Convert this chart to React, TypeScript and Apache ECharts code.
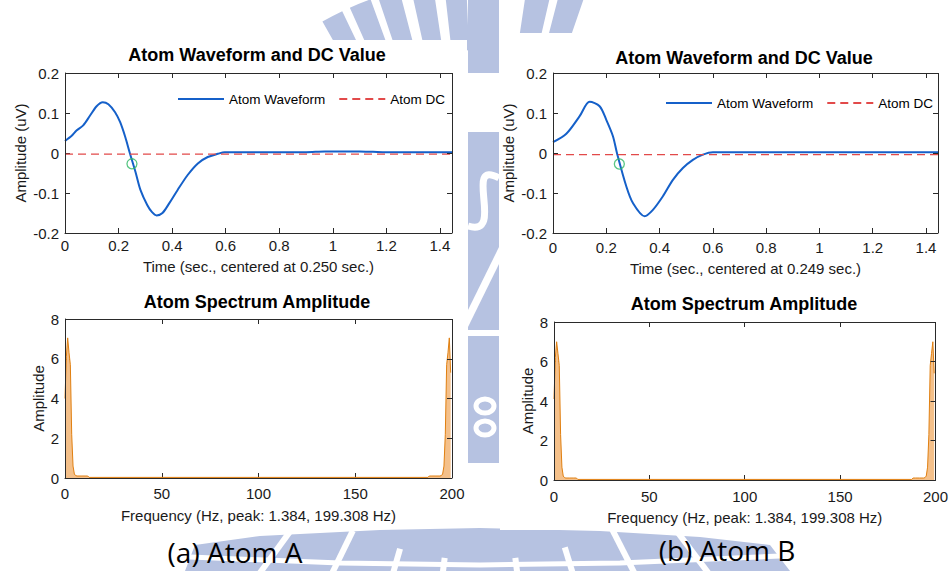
import React, { useEffect, useRef } from "react";
import * as echarts from "echarts";

// ---------- data ----------
const waveTimeA = [0, 0.025, 0.043, 0.068, 0.093, 0.118, 0.141, 0.162, 0.187, 0.206, 0.225, 0.242, 0.263, 0.282, 0.307, 0.325, 0.342, 0.364, 0.389, 0.42, 0.458, 0.496, 0.533, 0.571, 0.596, 0.7, 0.8, 0.9, 0.97, 1.0, 1.1, 1.15, 1.2, 1.3, 1.445];
const waveAmpA = [0.03, 0.043, 0.056, 0.069, 0.093, 0.117, 0.127, 0.122, 0.102, 0.077, 0.04, 0.0, -0.047, -0.093, -0.13, -0.148, -0.156, -0.15, -0.126, -0.093, -0.055, -0.026, -0.01, -0.002, 0.002, 0.002, 0.002, 0.002, 0.004, 0.004, 0.004, 0.003, 0.002, 0.002, 0.002];
const dcA = -0.003;
const centerA = [0.25, -0.027];

const waveTimeB = [0, 0.05, 0.1, 0.1375, 0.175, 0.2, 0.225, 0.24, 0.275, 0.3, 0.344, 0.375, 0.4125, 0.45, 0.4875, 0.525, 0.5625, 0.6, 0.8, 1.0, 1.2, 1.445];
const waveAmpB = [0.027, 0.048, 0.092, 0.128, 0.117, 0.083, 0.042, 0.0, -0.083, -0.125, -0.158, -0.142, -0.108, -0.067, -0.0375, -0.017, -0.004, 0.002, 0.002, 0.002, 0.002, 0.002];
const dcB = -0.004;
const centerB = [0.249, -0.0275];

const specFreqA = [0, 0.692, 1.384, 2.076, 2.768, 3.46, 4.152, 4.844, 5.536, 6.228, 8.304, 10.38, 11.764, 12.456, 187.544, 188.236, 189.62, 191.696, 193.772, 194.464, 195.156, 195.848, 196.54, 197.232, 197.924, 198.616, 199.308];
const specAmpA = [4.0, 6.1, 7.05, 6.3, 5.7, 2.2, 0.6, 0.2, 0.12, 0.1, 0.1, 0.1, 0.1, 0.03, 0.03, 0.1, 0.1, 0.1, 0.1, 0.12, 0.2, 0.6, 2.2, 5.7, 6.3, 7.05, 5.3];

const specFreqB = [0, 0.692, 1.384, 2.076, 2.768, 3.46, 4.152, 4.844, 5.536, 6.228, 8.304, 10.38, 11.764, 12.456, 187.544, 188.236, 189.62, 191.696, 193.772, 194.464, 195.156, 195.848, 196.54, 197.232, 197.924, 198.616, 199.308];
const specAmpB = [4.1, 6.2, 7.0, 6.4, 5.8, 2.3, 0.65, 0.2, 0.12, 0.1, 0.1, 0.1, 0.1, 0.03, 0.03, 0.1, 0.1, 0.1, 0.1, 0.12, 0.2, 0.65, 2.3, 5.8, 6.4, 7.0, 5.4];

const timeMax = 1.445;
const freqMax = 200;
const timeTicks = [0, 0.2, 0.4, 0.6, 0.8, 1.0, 1.2, 1.4];
const ampTicks = [-0.2, -0.1, 0, 0.1, 0.2];
const freqTicks = [0, 50, 100, 150, 200];
const specTicks = [0, 2, 4, 6, 8];

const titleWave = "Atom Waveform and DC Value";
const titleSpec = "Atom Spectrum Amplitude";
const xNameWaveA = "Time (sec., centered at 0.250 sec.)";
const xNameWaveB = "Time (sec., centered at 0.249 sec.)";
const xNameSpec = "Frequency (Hz, peak: 1.384, 199.308 Hz)";
const yNameWave = "Amplitude (uV)";
const yNameSpec = "Amplitude";
const captionA = "(a) Atom A";
const captionB = "(b) Atom B";
const legendNames = ["Atom Waveform", "Atom DC"];

// ---------- styling ----------
const FONT = "'Liberation Sans', Arial, Helvetica, sans-serif";
const INK = "#1a1a1a";
const FRAME = "#2a2a2a";
const BLUE = "#1560c9";
const RED = "#e24a4a";
const GREEN = "#2fb865";
const ORANGE = "#e07f10";
const ORANGE_FILL = "#f4c08a";
const WM = "#b6c2e1";

const GRIDS = [
  { left: 65, top: 73, width: 387, height: 160 },
  { left: 553, top: 73, width: 385, height: 160 },
  { left: 65, top: 319, width: 387, height: 159 },
  { left: 554, top: 322, width: 385, height: 158 },
];

const zip = (a: number[], b: number[]) => a.map((v, i) => [v, b[i]]);

function axes(
  gi: number,
  xmin: number, xmax: number, xint: number,
  ymin: number, ymax: number, yint: number,
  xname: string, yname: string,
  xNameGap: number, yNameGap: number, xLabelMargin: number
) {
  const lbl = { fontSize: 15, color: INK, fontFamily: FONT };
  const xs = [
    {
      gridIndex: gi, type: "value", min: xmin, max: xmax, interval: xint, position: "bottom",
      name: xname, nameLocation: "middle", nameGap: xNameGap,
      nameTextStyle: { fontSize: 15, color: INK, fontFamily: FONT },
      axisLine: { show: true, onZero: false, lineStyle: { color: FRAME, width: 1 } },
      axisTick: { show: true, inside: true, length: 5, lineStyle: { color: FRAME, width: 1 } },
      axisLabel: { ...lbl, margin: xLabelMargin },
      splitLine: { show: false },
    },
  ];
  const ys = [
    {
      gridIndex: gi, type: "value", min: ymin, max: ymax, interval: yint, position: "left",
      name: yname, nameLocation: "middle", nameGap: yNameGap, nameRotate: 90,
      nameTextStyle: { fontSize: 15, color: INK, fontFamily: FONT },
      axisLine: { show: true, onZero: false, lineStyle: { color: FRAME, width: 1 } },
      axisTick: { show: true, inside: true, length: 5, lineStyle: { color: FRAME, width: 1 } },
      axisLabel: { ...lbl, margin: 6 },
      splitLine: { show: false },
    },
  ];
  return { xs, ys };
}

function watermark() {
  const els: any[] = [];
  const deg = Math.PI / 180;
  const topBars = [[-119.5, -115.5], [-114, -110], [-108.6, -104.6], [-102.5, -98.5], [-96.5, -92.5], [-81.5, -77], [-75.5, -71]];
  topBars.forEach(([a, b]) =>
    els.push({ type: "sector", shape: { cx: 480, cy: 300, r0: 250, r: 320, startAngle: a * deg, endAngle: b * deg }, style: { fill: WM } })
  );
  els.push({ type: "rect", shape: { x: 468, y: 0, width: 31, height: 73 }, style: { fill: WM } });
  els.push({ type: "rect", shape: { x: 468, y: 132, width: 31, height: 331 }, style: { fill: WM } });
  els.push({ type: "bezierCurve", shape: { x1: 499, y1: 178, cpx1: 462, cpy1: 158, cpx2: 506, cpy2: 238, x2: 468, y2: 226 }, style: { stroke: "#fff", lineWidth: 7, fill: null } });
  els.push({ type: "polygon", shape: { points: [[468, 310], [499, 247], [499, 264], [468, 327]] }, style: { fill: "#fff" } });
  els.push({ type: "rect", shape: { x: 468, y: 330, width: 31, height: 6 }, style: { fill: "#fff" } });
  els.push({ type: "ellipse", shape: { cx: 485, cy: 406, rx: 9, ry: 7 }, style: { stroke: "#fff", lineWidth: 5, fill: null } });
  els.push({ type: "ellipse", shape: { cx: 485, cy: 428, rx: 9, ry: 7 }, style: { stroke: "#fff", lineWidth: 5, fill: null } });
  els.push({ type: "polygon", shape: { points: [[185, 571], [195, 545], [260, 536], [380, 530], [480, 528], [600, 531], [700, 537], [770, 545], [790, 571]] }, style: { fill: WM } });
  els.push({ type: "polyline", shape: { points: [[190, 557], [340, 563], [480, 565], [620, 563], [780, 556]] }, style: { stroke: "#fff", lineWidth: 5, fill: null } });
  const gapAngles = [126, 116, 106, 97, 83, 73, 63, 53];
  gapAngles.forEach((a) => {
    const c = Math.cos(a * deg), s = Math.sin(a * deg);
    els.push({ type: "line", shape: { x1: 480 + c * 290, y1: 270 + s * 290, x2: 480 + c * 420, y2: 270 + s * 420 }, style: { stroke: "#fff", lineWidth: 6 } });
  });
  els.push({ type: "rect", shape: { x: 0, y: 40, width: 467, height: 487 }, style: { fill: "#fff" } });
  els.push({ type: "rect", shape: { x: 500, y: 33, width: 451, height: 497 }, style: { fill: "#fff" } });
  return els;
}

function texts() {
  const t = (text: string, x: number, y: number, size: number, bold: boolean, family = FONT) => ({
    type: "text", x, y, z: 100,
    style: { text, fontSize: size, fontWeight: bold ? "bold" : "normal", fontFamily: family, fill: "#000", align: "center", verticalAlign: "middle" },
  });
  return [
    t(titleWave, 257, 55, 18, true),
    t(titleWave, 744, 58, 18, true),
    t(titleSpec, 257, 302, 18, true),
    t(titleSpec, 744, 304, 18, true),
    t(captionA, 235, 552, 28, false, "'Open Sans', 'Noto Sans', sans-serif"),
    t(captionB, 727, 550, 28, false, "'Open Sans', 'Noto Sans', sans-serif"),
  ];
}

// box + inward ticks on top and right, as a "lines" series in the grid's own data coordinates
function frameSeries(gi: number, xmin: number, xmax: number, ymin: number, ymax: number, xt: number[], yt: number[]) {
  const g = GRIDS[gi];
  const L = 5;
  const dx = ((xmax - xmin) * L) / g.width;
  const dy = ((ymax - ymin) * L) / g.height;
  const segs: any[] = [
    { coords: [[xmin, ymax], [xmax, ymax]] },
    { coords: [[xmax, ymin], [xmax, ymax]] },
    { coords: [[xmin, ymin], [xmax, ymin]] },
    { coords: [[xmin, ymin], [xmin, ymax]] },
  ];
  xt.forEach((v) => segs.push({ coords: [[v, ymax], [v, ymax - dy]] }));
  yt.forEach((v) => segs.push({ coords: [[xmax, v], [xmax - dx, v]] }));
  return {
    type: "lines", coordinateSystem: "cartesian2d", xAxisIndex: gi, yAxisIndex: gi,
    polyline: false, clip: false, silent: true, z: 10,
    lineStyle: { color: FRAME, width: 1, opacity: 1 },
    data: segs,
  };
}

const layer: React.CSSProperties = { position: "absolute", left: 0, top: 0, width: 951, height: 571 };

export default function App() {
  const bgRef = useRef<HTMLDivElement>(null);
  const ref = useRef<HTMLDivElement>(null);
  useEffect(() => {
    if (!ref.current || !bgRef.current) return;
    const bg = echarts.init(bgRef.current, undefined, { renderer: "svg" });
    bg.setOption({ animation: false, backgroundColor: "#fff", graphic: watermark() });

    const chart = echarts.init(ref.current, undefined, { renderer: "svg" });

    const a0 = axes(0, 0, timeMax, 0.2, -0.2, 0.2, 0.1, xNameWaveA, yNameWave, 26, 37, 5);
    const a1 = axes(1, 0, timeMax, 0.2, -0.2, 0.2, 0.1, xNameWaveB, yNameWave, 28, 37, 7);
    const a2 = axes(2, 0, freqMax, 50, 0, 8, 2, xNameSpec, yNameSpec, 30, 19, 8);
    const a3 = axes(3, 0, freqMax, 50, 0, 8, 2, xNameSpec, yNameSpec, 30, 19, 9);

    const waveSeries = (xi: number, t: number[], v: number[], dc: number, c: number[]) => [
      {
        type: "line", name: "Atom Waveform", xAxisIndex: xi, yAxisIndex: xi, data: zip(t, v),
        symbol: "none", smooth: 0.3, color: BLUE, lineStyle: { color: BLUE, width: 2 }, z: 3,
      },
      {
        type: "line", name: "Atom DC", xAxisIndex: xi, yAxisIndex: xi, data: [[0, dc], [timeMax, dc]],
        symbol: "none", color: RED, lineStyle: { color: RED, width: 1.2, type: [8, 5] }, z: 4,
      },
      {
        type: "scatter", name: "center", xAxisIndex: xi, yAxisIndex: xi, data: [c],
        symbol: "circle", symbolSize: 10, itemStyle: { color: "rgba(0,0,0,0)", borderColor: GREEN, borderWidth: 1.3 }, z: 5,
      },
    ];
    const specSeries = (xi: number, f: number[], v: number[]) => ({
      type: "line", name: "Spectrum", xAxisIndex: xi, yAxisIndex: xi, data: zip(f, v),
      symbol: "none", color: ORANGE, lineStyle: { color: ORANGE, width: 1 },
      areaStyle: { color: ORANGE_FILL, opacity: 1 },
    });

    const legendBase = {
      data: legendNames, orient: "horizontal", itemWidth: 46, itemHeight: 14, itemGap: 13,
      itemStyle: { opacity: 0 },
      textStyle: { fontSize: 13.5, color: "#000", fontFamily: FONT }, selectedMode: false,
    };

    chart.setOption({
      animation: false,
      backgroundColor: "transparent",
      grid: GRIDS.map((g) => ({ ...g, containLabel: false, show: false })),
      xAxis: [...a0.xs, ...a1.xs, ...a2.xs, ...a3.xs],
      yAxis: [...a0.ys, ...a1.ys, ...a2.ys, ...a3.ys],
      legend: [
        { ...legendBase, left: 172, top: 87 },
        { ...legendBase, left: 660, top: 91 },
      ],
      graphic: texts(),
      series: [
        ...waveSeries(0, waveTimeA, waveAmpA, dcA, centerA),
        ...waveSeries(1, waveTimeB, waveAmpB, dcB, centerB),
        specSeries(2, specFreqA, specAmpA),
        specSeries(3, specFreqB, specAmpB),
        frameSeries(0, 0, timeMax, -0.2, 0.2, timeTicks, ampTicks),
        frameSeries(1, 0, timeMax, -0.2, 0.2, timeTicks, ampTicks),
        frameSeries(2, 0, freqMax, 0, 8, freqTicks, specTicks),
        frameSeries(3, 0, freqMax, 0, 8, freqTicks, specTicks),
      ],
    });

    return () => {
      chart.dispose();
      bg.dispose();
    };
  }, []);
  return (
    <div style={{ position: "fixed", left: 0, top: 0, width: 951, height: 571 }}>
      <div ref={bgRef} style={{ ...layer, zIndex: 0 }} />
      <div ref={ref} style={{ ...layer, zIndex: 1 }} />
    </div>
  );
}
